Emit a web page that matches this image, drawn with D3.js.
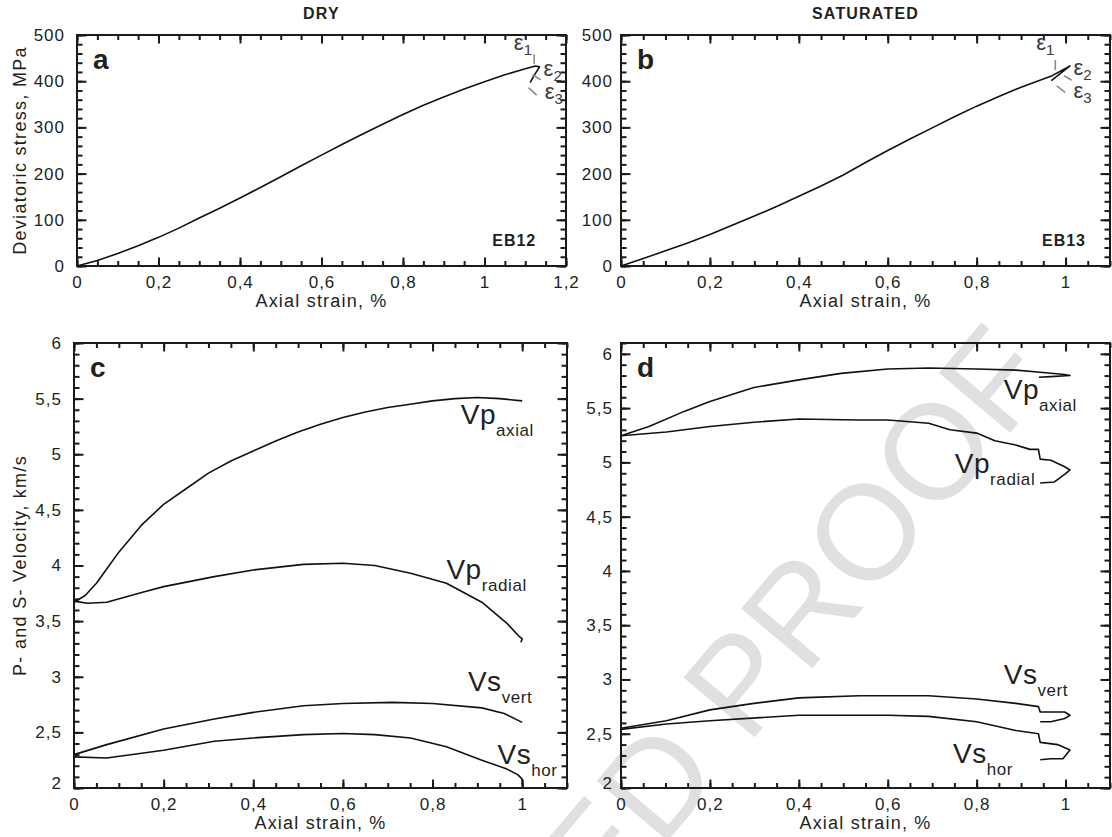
<!DOCTYPE html>
<html>
  <head>
    <meta charset="utf-8">
    <title>Stress and velocities vs axial strain</title>
    <script src="https://d3js.org/d3.v7.min.js"></script>
    <style>
      body { margin: 0; background: #fff; }
      text { font-family: "Liberation Sans", Arial, sans-serif; fill: #231f20; }
    </style>
  </head>
  <body>
    <script>
      var width = 1112;
      var height = 837;

      // a - DRY, deviatoric stress (MPa) vs axial strain (%)
      var dryStrain = [0, 0.05, 0.1, 0.15, 0.2, 0.25, 0.3, 0.35, 0.4, 0.45, 0.5, 0.55, 0.6, 0.65, 0.7, 0.75, 0.8, 0.85, 0.9, 0.95, 1.0, 1.05, 1.1, 1.125, 1.135, 1.13, 1.12, 1.112];
      var dryStress = [0, 12, 27, 44, 62, 82, 104, 125, 147, 170, 193, 217, 240, 263, 285, 307, 328, 348, 366, 383, 399, 414, 427, 433, 431, 424, 410, 397];

      // b - SATURATED
      var satStrain = [0, 0.05, 0.1, 0.15, 0.2, 0.25, 0.3, 0.35, 0.4, 0.45, 0.5, 0.55, 0.6, 0.65, 0.7, 0.75, 0.8, 0.85, 0.9, 0.95, 0.97, 1.01, 0.968];
      var satStress = [0, 16, 33, 50, 68, 88, 108, 129, 151, 173, 197, 224, 250, 275, 299, 323, 346, 367, 387, 405, 412, 433, 401];

      // c - DRY velocities (km/s)
      var dryVpAxStrain = [0, 0.025, 0.05, 0.075, 0.1, 0.15, 0.2, 0.25, 0.3, 0.35, 0.4, 0.45, 0.5, 0.55, 0.6, 0.65, 0.7, 0.75, 0.8, 0.85, 0.9, 0.95, 1.0];
      var dryVpAx = [3.67, 3.73, 3.84, 3.98, 4.12, 4.36, 4.55, 4.69, 4.83, 4.94, 5.03, 5.12, 5.20, 5.27, 5.33, 5.38, 5.42, 5.45, 5.48, 5.50, 5.51, 5.50, 5.48];
      var dryVpRadStrain = [0, 0.03, 0.073, 0.153, 0.2, 0.313, 0.4, 0.512, 0.6, 0.671, 0.751, 0.831, 0.91, 0.966, 0.994, 1.0, 0.997];
      var dryVpRad = [3.68, 3.66, 3.67, 3.76, 3.81, 3.90, 3.96, 4.01, 4.02, 4.00, 3.93, 3.84, 3.67, 3.48, 3.36, 3.34, 3.31];
      var dryVsVertStrain = [0, 0.073, 0.2, 0.313, 0.4, 0.512, 0.6, 0.711, 0.8, 0.91, 0.96, 1.0];
      var dryVsVert = [2.30, 2.39, 2.53, 2.62, 2.68, 2.74, 2.76, 2.77, 2.76, 2.72, 2.67, 2.59];
      var dryVsHorStrain = [0, 0.073, 0.2, 0.313, 0.4, 0.512, 0.6, 0.671, 0.751, 0.831, 0.91, 0.966, 0.99, 1.0, 1.0];
      var dryVsHor = [2.28, 2.27, 2.34, 2.42, 2.45, 2.48, 2.49, 2.48, 2.45, 2.37, 2.25, 2.17, 2.12, 2.08, 2.03];

      // d - SATURATED velocities (km/s)
      var satVpAxStrain = [0, 0.063, 0.142, 0.2, 0.299, 0.4, 0.495, 0.6, 0.692, 0.8, 0.888, 0.943, 0.998, 1.01, 0.967, 0.94];
      var satVpAx = [5.245, 5.33, 5.47, 5.56, 5.69, 5.76, 5.82, 5.86, 5.87, 5.86, 5.85, 5.83, 5.81, 5.80, 5.79, 5.785];
      var satVpRadStrain = [0, 0.102, 0.2, 0.299, 0.4, 0.535, 0.6, 0.692, 0.74, 0.8, 0.841, 0.888, 0.92, 0.939, 0.943, 0.967, 0.998, 1.01, 0.998, 0.975, 0.943];
      var satVpRad = [5.245, 5.28, 5.33, 5.37, 5.40, 5.39, 5.39, 5.36, 5.30, 5.27, 5.20, 5.16, 5.12, 5.12, 5.03, 5.02, 4.96, 4.93, 4.89, 4.82, 4.81];
      var satVsVertStrain = [0, 0.102, 0.2, 0.299, 0.4, 0.535, 0.6, 0.692, 0.8, 0.888, 0.939, 0.943, 0.998, 1.01, 0.998, 0.967, 0.943];
      var satVsVert = [2.55, 2.62, 2.72, 2.78, 2.83, 2.85, 2.85, 2.85, 2.82, 2.78, 2.75, 2.70, 2.70, 2.67, 2.64, 2.61, 2.61];
      var satVsHorStrain = [0, 0.102, 0.2, 0.4, 0.6, 0.692, 0.8, 0.888, 0.939, 0.943, 0.982, 1.01, 0.994, 0.967, 0.943];
      var satVsHor = [2.54, 2.59, 2.62, 2.67, 2.67, 2.66, 2.61, 2.53, 2.50, 2.42, 2.40, 2.35, 2.27, 2.27, 2.26];

      // tick labels
      var strainTicksA = [0, 0.2, 0.4, 0.6, 0.8, 1, 1.2];
      var strainTicks = [0, 0.2, 0.4, 0.6, 0.8, 1];
      var stressTicks = [0, 100, 200, 300, 400, 500];
      var velocityTicks = [2, 2.5, 3, 3.5, 4, 4.5, 5, 5.5, 6];

      var svg = d3.select("body")
        .append("svg")
          .attr("width", width)
          .attr("height", height);

      // watermark sits behind everything
      svg.append("text")
          .attr("transform", "translate(1056,378) rotate(-50)")
          .attr("text-anchor", "end")
          .style("font-size", "135px")
          .style("fill", "#e0e0e0")
          .text("UNCORRECTED PROOF");

      function comma(d) { return String(d).replace(".", ","); }

      function steps(a, b, s) {
        var out = [];
        for (var i = 0; a + i * s <= b + s / 1000; i++) out.push(+(a + i * s).toFixed(4));
        return out;
      }

      function makePanel(box, xDomain, yDomain, xTicks, yTicks, xMinor, yMinor, yPad) {
        var x = d3.scaleLinear().domain(xDomain).range([box.left, box.right]);
        var y = d3.scaleLinear().domain(yDomain).range([box.bottom, box.top]);
        var g = svg.append("g");

        var xm = steps(xDomain[0], xDomain[1], xMinor);
        var ym = steps(yDomain[0], yDomain[1], yMinor);

        function axis(gen, tr, values, size, fmt, pad) {
          gen.tickValues(values).tickSize(size).tickPadding(pad || 0);
          if (fmt) gen.tickFormat(fmt);
          var a = g.append("g")
              .attr("transform", tr)
              .call(gen);
          a.select(".domain").remove();
          a.selectAll(".tick line")
              .style("stroke", "#1a1a1a")
              .style("stroke-width", "2px");
          if (!fmt) a.selectAll(".tick text").remove();
          return a;
        }
        // minor ticks
        axis(d3.axisBottom(x), "translate(0," + box.bottom + ")", xm, -5);
        axis(d3.axisTop(x), "translate(0," + box.top + ")", xm, -5);
        axis(d3.axisLeft(y), "translate(" + box.left + ",0)", ym, -5.5);
        axis(d3.axisRight(y), "translate(" + box.right + ",0)", ym, -5.5);
        // major ticks
        var bx = axis(d3.axisBottom(x), "translate(0," + box.bottom + ")", xTicks, -8.5, comma, 10);
        axis(d3.axisTop(x), "translate(0," + box.top + ")", xTicks.filter(function(d) { return d <= xDomain[1]; }), -8.5);
        var ly = axis(d3.axisLeft(y), "translate(" + box.left + ",0)", yTicks, -9.5, comma, yPad);
        axis(d3.axisRight(y), "translate(" + box.right + ",0)", yTicks, -9.5);

        bx.selectAll("text").style("font-size", "17px").style("letter-spacing", "1px");
        ly.selectAll("text").style("font-size", "17px").style("letter-spacing", "1px");

        g.append("rect")
            .attr("x", box.left)
            .attr("y", box.top)
            .attr("width", box.right - box.left)
            .attr("height", box.bottom - box.top)
            .attr("fill", "none")
            .attr("stroke", "#1a1a1a")
            .attr("stroke-width", 2);

        return {g: g, x: x, y: y, box: box, yAxis: ly};
      }

      function curve(p, xs, ys) {
        var line = d3.line()
            .x(function(d) { return p.x(d[0]); })
            .y(function(d) { return p.y(d[1]); });
        p.g.append("path")
            .datum(d3.zip(xs, ys))
            .attr("d", line)
            .attr("fill", "none")
            .attr("stroke", "#111")
            .attr("stroke-width", 1.6)
            .attr("stroke-linejoin", "round");
      }

      function letter(p, s) {
        p.g.append("text")
            .attr("x", p.box.left + 16)
            .attr("y", p.box.top + 34)
            .style("font-size", "28px")
            .style("font-weight", "bold")
            .text(s);
      }

      function xTitle(p) {
        p.g.append("text")
            .attr("x", (p.box.left + p.box.right) / 2)
            .attr("y", p.box.bottom + 41)
            .attr("text-anchor", "middle")
            .style("font-size", "18px")
            .style("letter-spacing", "1.2px")
            .text("Axial strain, %");
      }

      function yTitle(p, s) {
        var cy = (p.box.top + p.box.bottom) / 2;
        p.g.append("text")
            .attr("transform", "translate(26," + cy + ") rotate(-90)")
            .attr("text-anchor", "middle")
            .style("font-size", "18px")
            .style("letter-spacing", "1.3px")
            .text(s);
      }

      function subLabel(p, xv, yv, main, sub) {
        var t = p.g.append("text")
            .attr("x", p.x(xv))
            .attr("y", p.y(yv))
            .style("font-size", "28px")
            .style("letter-spacing", "0.5px")
            .text(main);
        t.append("tspan")
            .attr("dy", 12)
            .style("font-size", "17px")
            .style("letter-spacing", "0.6px")
            .text(sub);
      }

      function eps(p, xv, yv, n) {
        var t = p.g.append("text")
            .attr("x", p.x(xv))
            .attr("y", p.y(yv))
            .style("font-size", "22px")
            .style("fill", "#3a3a3a")
            .text("\u03b5");
        t.append("tspan")
            .attr("dy", 5)
            .style("font-size", "15px")
            .text(n);
      }

      function leader(p, x1, y1, x2, y2) {
        p.g.append("line")
            .attr("x1", p.x(x1)).attr("y1", p.y(y1))
            .attr("x2", p.x(x2)).attr("y2", p.y(y2))
            .attr("stroke", "#8a8a8a")
            .attr("stroke-width", 1.6);
      }

      function sampleTag(p, xv, yv, s) {
        p.g.append("text")
            .attr("x", p.x(xv))
            .attr("y", p.y(yv))
            .attr("text-anchor", "end")
            .style("font-size", "16px")
            .style("font-weight", "bold")
            .style("letter-spacing", "1px")
            .text(s);
      }

      function header(p, s) {
        svg.append("text")
            .attr("x", (p.box.left + p.box.right) / 2)
            .attr("y", 19)
            .attr("text-anchor", "middle")
            .style("font-size", "16px")
            .style("font-weight", "bold")
            .style("letter-spacing", "1.2px")
            .text(s);
      }

      var pa = makePanel({left: 77, right: 566, top: 35, bottom: 266}, [0, 1.2], [0, 500], strainTicksA, stressTicks, 0.05, 20, 12);
      var pb = makePanel({left: 621, right: 1110, top: 35, bottom: 266}, [0, 1.1], [0, 500], strainTicks, stressTicks, 0.05, 20, 8);
      var pc = makePanel({left: 74, right: 567, top: 343, bottom: 788}, [0, 1.1], [2, 6], strainTicks, velocityTicks, 0.05, 0.1, 12);
      var pd = makePanel({left: 621, right: 1110, top: 343, bottom: 788}, [0, 1.1], [2, 6.1], strainTicks, velocityTicks, 0.05, 0.1, 8);

      [pc, pd].forEach(function(p) {
        p.yAxis.selectAll("text").filter(function(d) { return d === 2; }).attr("dy", "0.05em");
      });

      header(pa, "DRY");
      header(pb, "SATURATED");

      curve(pa, dryStrain, dryStress);
      curve(pb, satStrain, satStress);

      curve(pc, dryVpAxStrain, dryVpAx);
      curve(pc, dryVpRadStrain, dryVpRad);
      curve(pc, dryVsVertStrain, dryVsVert);
      curve(pc, dryVsHorStrain, dryVsHor);

      curve(pd, satVpAxStrain, satVpAx);
      curve(pd, satVpRadStrain, satVpRad);
      curve(pd, satVsVertStrain, satVsVert);
      curve(pd, satVsHorStrain, satVsHor);

      letter(pa, "a");
      letter(pb, "b");
      letter(pc, "c");
      letter(pd, "d");

      [pa, pb, pc, pd].forEach(xTitle);
      yTitle(pa, "Deviatoric stress, MPa");
      yTitle(pc, "P- and S- Velocity, km/s");

      sampleTag(pa, 1.127, 43, "EB12");
      sampleTag(pb, 1.046, 43, "EB13");

      // strain gauge annotations
      eps(pa, 1.072, 468, "1");
      leader(pa, 1.122, 458, 1.122, 437);
      eps(pa, 1.145, 411, "2");
      leader(pa, 1.118, 414, 1.138, 403);
      eps(pa, 1.148, 362, "3");
      leader(pa, 1.108, 386, 1.128, 370);

      eps(pb, 0.934, 468, "1");
      leader(pb, 0.977, 446, 0.977, 424);
      eps(pb, 1.018, 414, "2");
      leader(pb, 0.996, 412, 1.014, 402);
      eps(pb, 1.018, 364, "3");
      leader(pb, 0.98, 390, 0.999, 376);

      subLabel(pc, 0.863, 5.27, "Vp", "axial");
      subLabel(pc, 0.831, 3.88, "Vp", "radial");
      subLabel(pc, 0.879, 2.87, "Vs", "vert");
      subLabel(pc, 0.945, 2.22, "Vs", "hor");

      subLabel(pd, 0.861, 5.586, "Vp", "axial");
      subLabel(pd, 0.751, 4.90, "Vp", "radial");
      subLabel(pd, 0.861, 2.96, "Vs", "vert");
      subLabel(pd, 0.747, 2.23, "Vs", "hor");
    </script>
  </body>
</html>
